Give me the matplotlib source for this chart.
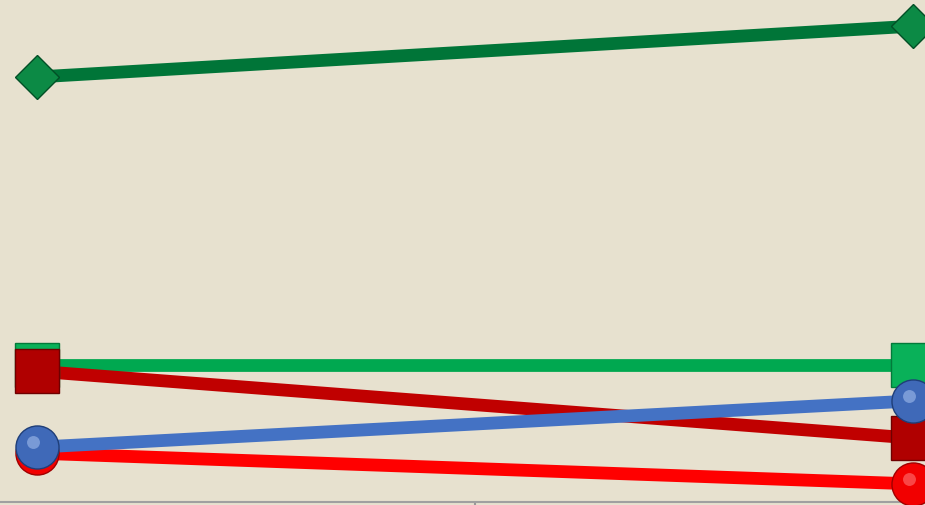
import numpy as np
import matplotlib.pyplot as plt
import matplotlib.transforms as mtransforms

# two categories on x, five series
x_pos = [0, 1]
dark_green = [84.5, 94.6]
green = [27.2, 27.2]
dark_red = [26.0, 12.7]
red = [9.7, 3.6]
blue = [10.9, 20.1]

series = [
    # values, line colour, marker, face, edge, highlight, marker size
    (dark_green, "#007538", "D", "#0C8A45", "#024F26", None, 22),
    (green, "#00A850", "s", "#09B159", "#027A3A", None, 31),
    (dark_red, "#C00000", "s", "#B00000", "#6E0000", None, 31),
    (red, "#FF0000", "o", "#F20000", "#A00000", "#FF8080", 31),
    (blue, "#4472C4", "o", "#3F69B8", "#1F3E78", "#A9C3F0", 31),
]

fig = plt.figure(figsize=(9.25, 5.06), dpi=100)
fig.patch.set_facecolor("#E7E1CF")
ax = fig.add_axes([0, 3 / 506, 1, 503 / 506])
ax.set_facecolor("#E7E1CF")

# shift for the sphere highlight (up and left)
shift = mtransforms.ScaledTranslation(-4 / 100, 5 / 100, fig.dpi_scale_trans)

for vals, lc, mk, fc, ec, hc, ms in series:
    ax.plot(x_pos, vals, color=lc, lw=9.2, solid_capstyle="butt", zorder=2)
    ax.plot(x_pos, vals, ls="none", marker=mk, ms=ms, mfc=fc, mec=ec,
            mew=1.0, zorder=3, clip_on=False)
    if hc:
        ax.plot(x_pos, vals, ls="none", marker="o", ms=ms * 0.3, mfc=hc,
                mec="none", alpha=0.55, zorder=3, clip_on=False,
                transform=ax.transData + shift)

ax.set_xlim(-37 / 876, 1 + 12 / 876)
ax.set_ylim(0, 100)
ax.set_xticks([0.5])
ax.set_xticklabels([])
ax.set_yticks([])
ax.tick_params(axis="x", direction="out", length=4, color="#999999", width=1.5)
for s in ["top", "left", "right"]:
    ax.spines[s].set_visible(False)
ax.spines["bottom"].set_color("#A0A0A0")
ax.spines["bottom"].set_linewidth(1.5)

fig.savefig("out.png", dpi=100, facecolor=fig.get_facecolor())
